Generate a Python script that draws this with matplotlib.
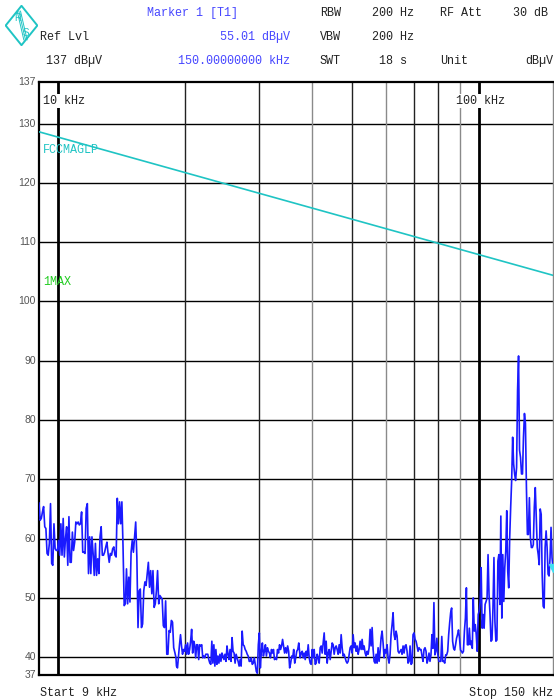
import numpy as np
import matplotlib
matplotlib.use("Agg")
import matplotlib.pyplot as plt
from matplotlib.patches import Polygon

MONO = "Liberation Mono"
SANS = "Liberation Sans"
BLUE_TXT = "#4646ff"
TRACE = "#1a1aff"
CYAN = "#1fc4c4"

# trace in four pieces (kHz edges, dBuV levels)
seg_edges_khz = [(9.0, 19.05), (19.1, 37.3), (37.6, 76.1), (76.5, 150.0)]

seg1_db = [66.0, 63.1, 63.4, 64.5, 65.4, 62.0, 61.7, 57.5, 57.2, 59.2, 65.9, 55.8, 55.5, 62.5, 58.3,
           58.0, 58.0, 59.7, 57.2, 62.5, 57.2, 63.4, 56.9, 60.0, 62.0, 55.5, 63.7, 56.0, 56.0, 61.1,
           58.0, 59.4, 62.8, 62.5, 62.8, 62.3, 62.5, 64.5, 57.7, 57.7, 57.5, 65.1, 65.9, 54.1, 60.3,
           54.1, 60.3, 57.5, 53.8, 59.2, 53.8, 56.6, 54.1, 60.3, 62.0, 57.2, 57.2, 57.7, 58.6, 59.4,
           57.5, 56.0, 57.5, 57.2, 58.3, 58.6, 57.2, 56.9, 66.8, 62.5, 66.2, 62.5, 66.2, 58.6, 48.7,
           49.0, 54.9, 49.0, 53.5, 49.3, 57.7, 59.7, 57.7, 60.3, 62.8, 56.9, 45.0, 51.2, 51.5, 45.0,
           45.6, 51.2, 52.7, 52.1, 54.1, 56.0, 51.8, 54.6, 50.7, 54.6, 48.4, 49.0, 51.2, 54.6, 49.0,
           50.4, 50.1, 49.8, 45.3, 45.0, 49.5, 40.5, 40.5, 44.5, 44.2, 46.2, 45.9, 41.6, 40.8, 39.9]

seg2_db = [38.5, 38.2, 40.2, 42.1, 43.8, 41.9, 40.5, 41.3, 41.0, 42.1, 40.5, 42.4, 40.5, 41.3, 42.7,
           44.7, 40.7, 42.7, 42.1, 39.9, 42.1, 42.1, 39.6, 42.1, 41.9, 42.1, 39.9, 40.2, 39.9, 40.5,
           40.5, 40.5, 39.6, 39.0, 38.8, 42.7, 39.0, 42.1, 38.5, 41.3, 38.8, 40.2, 39.0, 40.5, 39.3,
           40.7, 40.2, 39.6, 40.5, 39.3, 41.9, 40.5, 39.6, 41.3, 39.3, 43.3, 41.0, 40.7, 39.0, 40.5,
           39.9, 39.3, 38.5, 39.6, 38.5, 44.4, 42.1, 41.9, 41.3, 41.0, 40.5, 40.2, 39.3, 39.3, 39.9,
           38.8, 39.0, 39.9, 38.8, 37.6, 37.3, 42.1, 44.1, 38.2, 41.0, 42.4, 40.2, 41.0, 42.1, 40.2,
           41.6, 41.0, 40.7, 39.9, 41.3, 40.7, 41.3, 39.6, 39.9, 39.6, 41.3, 40.7, 42.1, 41.3, 41.9,
           43.0, 41.9, 40.7, 41.6, 40.7, 41.9, 41.0, 38.2, 39.0, 40.2, 39.9, 41.3, 39.0, 39.9, 41.0,
           41.3, 42.4]

seg3_db = [39.9, 40.7, 41.0, 39.9, 40.7, 39.6, 41.0, 40.2, 42.1, 39.9, 39.0, 38.8, 41.3, 39.9, 41.3,
           38.8, 39.0, 40.5, 39.9, 39.0, 41.6, 41.9, 40.7, 42.4, 44.1, 40.5, 42.7, 39.0, 40.7, 41.3,
           39.6, 41.0, 42.4, 42.1, 40.5, 41.6, 41.9, 41.3, 40.5, 42.1, 40.7, 43.8, 41.6, 40.2, 40.5,
           39.9, 39.3, 39.0, 39.3, 40.5, 41.6, 41.9, 40.7, 43.8, 41.6, 42.4, 41.0, 41.9, 40.5, 41.3,
           42.7, 41.3, 43.0, 41.3, 41.9, 40.7, 40.2, 41.0, 40.5, 41.6, 44.7, 41.9, 45.0, 41.3, 39.3,
           39.0, 40.5, 39.0, 41.6, 39.3, 41.0, 43.3, 44.4, 42.4, 39.9, 41.3, 40.7, 42.1, 39.9, 39.0,
           40.5, 43.8, 45.5, 47.5, 43.8, 43.0, 44.4, 43.6, 41.0, 40.7, 41.0, 41.3, 40.5, 41.9, 40.7,
           41.9, 42.1, 41.0, 39.0, 39.3, 41.9, 38.8, 39.0, 43.8, 44.1, 43.0, 42.7, 41.9, 41.0, 41.6,
           41.3, 41.3, 40.2, 39.3, 41.3, 41.6, 41.0, 39.0, 39.6, 40.7]

seg4_db = [39.3, 40.4, 43.8, 41.5, 49.2, 40.4, 41.0, 43.2, 40.4, 39.3, 39.3, 39.3, 43.5, 39.3, 39.3,
           39.0, 40.4, 40.4, 41.0, 43.8, 45.8, 47.5, 48.3, 42.7, 41.5, 41.2, 42.1, 43.2, 43.8, 44.6,
           43.2, 41.2, 41.0, 40.7, 41.0, 44.4, 46.6, 51.7, 42.1, 42.1, 44.9, 42.1, 42.7, 41.5, 50.0,
           44.4, 45.5, 43.8, 41.0, 47.2, 47.8, 49.4, 55.1, 44.9, 47.2, 44.9, 48.9, 49.4, 50.0, 57.3,
           50.6, 47.2, 42.7, 42.9, 48.3, 56.8, 46.0, 42.7, 42.9, 56.2, 57.3, 48.9, 63.8, 46.6, 57.3,
           49.4, 55.1, 57.9, 64.7, 54.5, 51.7, 60.2, 65.3, 69.8, 77.1, 72.6, 70.9, 69.8, 72.0, 85.0,
           90.8, 74.9, 73.7, 70.9, 70.9, 77.1, 81.1, 79.4, 68.6, 60.7, 60.7, 66.9, 60.2, 58.5, 58.5,
           59.0, 65.3, 68.6, 63.6, 58.5, 57.3, 55.6, 65.0, 64.1, 54.0, 48.6, 48.3, 58.5, 61.3, 58.5,
           54.0, 53.7, 56.8, 61.9, 56.8, 55.01]

limit_khz = [9.0, 150.0]
limit_db = [128.6, 104.4]

marker_khz, marker_db = 150.0, 55.01

y_ticks = [37, 40, 50, 60, 70, 80, 90, 100, 110, 120, 130, 137]
grid_db = [40, 50, 60, 70, 80, 90, 100, 110, 120, 130]
grid_khz = [20, 30, 40, 50, 60, 70, 80, 90]
grid_dark = [True, True, False, True, False, True, True, False]

freqs, levels = [], []
for (f0, f1), seg in zip(seg_edges_khz, [seg1_db, seg2_db, seg3_db, seg4_db]):
    freqs.append(np.geomspace(f0, f1, len(seg)))
    levels.append(np.array(seg))
freqs = np.concatenate(freqs)
levels = np.concatenate(levels)

fig = plt.figure(figsize=(5.54, 7.0), dpi=100, facecolor="white")
ax = fig.add_axes((39 / 554, 25 / 700, 514 / 554, 593 / 700))
ax.set_xscale("log")
ax.set_xlim(9, 150)
ax.set_ylim(37, 137)
ax.set_xticks([])
ax.set_xticks([], minor=True)
ax.set_yticks([])
for s in ax.spines.values():
    s.set_linewidth(1.6)
    s.set_color("black")
ax.spines["right"].set_linewidth(1.0)
ax.spines["right"].set_color("#888888")

for g in grid_db:
    ax.axhline(g, color="black", lw=1.0, zorder=1)
for f, dark in zip(grid_khz, grid_dark):
    ax.axvline(f, color="#222222" if dark else "#8a8a8a", lw=1.0, zorder=1)
for f in (10, 100):
    ax.axvline(f, color="black", lw=2.0, zorder=1)

ax.plot(limit_khz, limit_db, color=CYAN, lw=1.2, zorder=3)
ax.plot(freqs, levels, color=TRACE, lw=1.2, zorder=4)
ax.plot([marker_khz], [marker_db], marker="v", ms=6, color="#40e0f0", clip_on=False, zorder=5)

for t in y_ticks:
    ax.text(-0.006, t, str(t), transform=ax.get_yaxis_transform(), ha="right", va="center",
            fontsize=7.5, family=SANS, color="#555555")

lbl_box = dict(facecolor="white", edgecolor="none", pad=0.5)
ax.text(9.2, 133.8, "10 kHz", fontsize=8.5, family=MONO, color="#222222", va="center", ha="left",
        bbox=lbl_box, zorder=2)
ax.text(88.2, 133.8, "100 kHz", fontsize=8.5, family=MONO, color="#222222", va="center", ha="left",
        bbox=lbl_box, zorder=2)
ax.text(9.2, 125.5, "FCCMAGLP", fontsize=8.5, family=MONO, color=CYAN, va="center", ha="left", zorder=6)
ax.text(9.2, 103.3, "1MAX", fontsize=8.5, family=MONO, color="#22cc22", va="center", ha="left", zorder=6)

# header block
def hdr(x, y, s, color="#222222", ha="left"):
    fig.text(x / 554, 1 - y / 700, s, fontsize=8.5, family=MONO, color=color, ha=ha, va="center")

hdr(147, 13, "Marker 1 [T1]", BLUE_TXT)
hdr(40, 37, "Ref Lvl")
hdr(290, 37, "55.01 dBµV", BLUE_TXT, ha="right")
hdr(46, 61, "137 dBµV")
hdr(290, 61, "150.00000000 kHz", BLUE_TXT, ha="right")
hdr(320, 13, "RBW")
hdr(414, 13, "200 Hz", ha="right")
hdr(440, 13, "RF Att")
hdr(548, 13, "30 dB", ha="right")
hdr(320, 37, "VBW")
hdr(414, 37, "200 Hz", ha="right")
hdr(320, 61, "SWT")
hdr(407, 61, "18 s", ha="right")
hdr(440, 61, "Unit")
hdr(553, 61, "dBµV", ha="right")
hdr(40, 693, "Start 9 kHz")
hdr(553, 693, "Stop 150 kHz", ha="right")

# R&S logo
lax = fig.add_axes((5 / 554, 1 - 46 / 700, 33 / 554, 41 / 700))
lax.set_xlim(0, 1)
lax.set_ylim(0, 1)
lax.axis("off")
lax.add_patch(Polygon([(0.5, 0.02), (0.98, 0.5), (0.5, 0.98), (0.02, 0.5)], closed=True,
                      fill=False, edgecolor=CYAN, lw=1.4))
for d in (-0.05, 0.0, 0.05):
    lax.plot([0.42 + d, 0.62 + d], [0.85, 0.15], color=CYAN, lw=0.7)
lax.text(0.38, 0.68, "R", fontsize=7, color=CYAN, ha="center", va="center", family=SANS)
lax.text(0.64, 0.32, "S", fontsize=7, color=CYAN, ha="center", va="center", family=SANS)

fig.savefig("out.png", dpi=100, facecolor="white")
